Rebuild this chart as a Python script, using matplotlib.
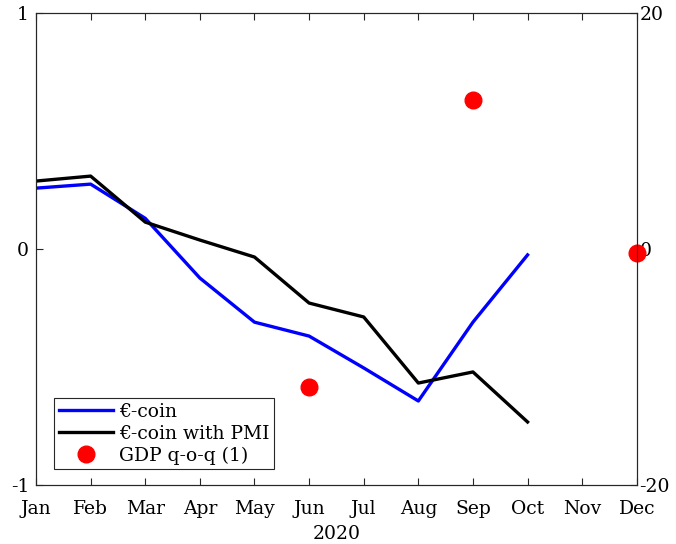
import numpy as np
import matplotlib.pyplot as plt

months = ["Jan", "Feb", "Mar", "Apr", "May", "Jun", "Jul", "Aug", "Sep", "Oct", "Nov", "Dec"]
ecoin = [0.258, 0.275, 0.13, -0.123, -0.31, -0.369, -0.504, -0.644, -0.31, -0.025]
ecoin_pmi = [0.288, 0.309, 0.114, 0.038, -0.034, -0.229, -0.288, -0.568, -0.521, -0.733]
gdp_months = [6, 9, 12]
gdp_qoq = [-11.7, 12.6, -0.3]

plt.rcParams['font.family'] = ['DejaVu Serif']
plt.rcParams['font.size'] = 13.5
plt.rcParams['axes.unicode_minus'] = False
axcol = "#262626"

fig = plt.figure(figsize=(6.76, 5.44), dpi=100)
ax = fig.add_axes([0.0533, 0.1085, 0.8887, 0.8675])
ax2 = ax.twinx()

x = np.arange(1, 13)
l1, = ax.plot(x[:len(ecoin)], ecoin, color="blue", lw=2.4, label="€-coin")
l2, = ax.plot(x[:len(ecoin_pmi)], ecoin_pmi, color="black", lw=2.4, label="€-coin with PMI")
l3, = ax2.plot(gdp_months, gdp_qoq, "o", color="red", ms=12, clip_on=False, label="GDP q-o-q (1)")

ax.set_xlim(1, 12)
ax.set_ylim(-1, 1)
ax2.set_ylim(-20, 20)
ax.set_xticks(x)
ax.set_xticklabels(months)
ax.set_yticks([-1, 0, 1])
ax2.set_yticks([-20, 0, 20])
ax.set_xlabel("2020", labelpad=5)

for a in (ax, ax2):
    for s in a.spines.values():
        s.set_color(axcol)
        s.set_linewidth(0.8)
    a.tick_params(direction="in", colors=axcol, labelcolor="black", length=5, width=0.8)
ax.tick_params(axis="x", top=True, pad=11)
ax.tick_params(axis="y", pad=5)
ax2.tick_params(axis="y", pad=2)

leg = ax.legend(handles=[l1, l2, l3], loc="lower left", bbox_to_anchor=(0.03, 0.033),
                fancybox=False, framealpha=1, edgecolor=axcol, handlelength=2.9,
                handletextpad=0.3, borderpad=0.25, labelspacing=0.2, fontsize=13.5,
                borderaxespad=0)
leg.get_frame().set_linewidth(0.8)

fig.savefig("out.png", dpi=100)
